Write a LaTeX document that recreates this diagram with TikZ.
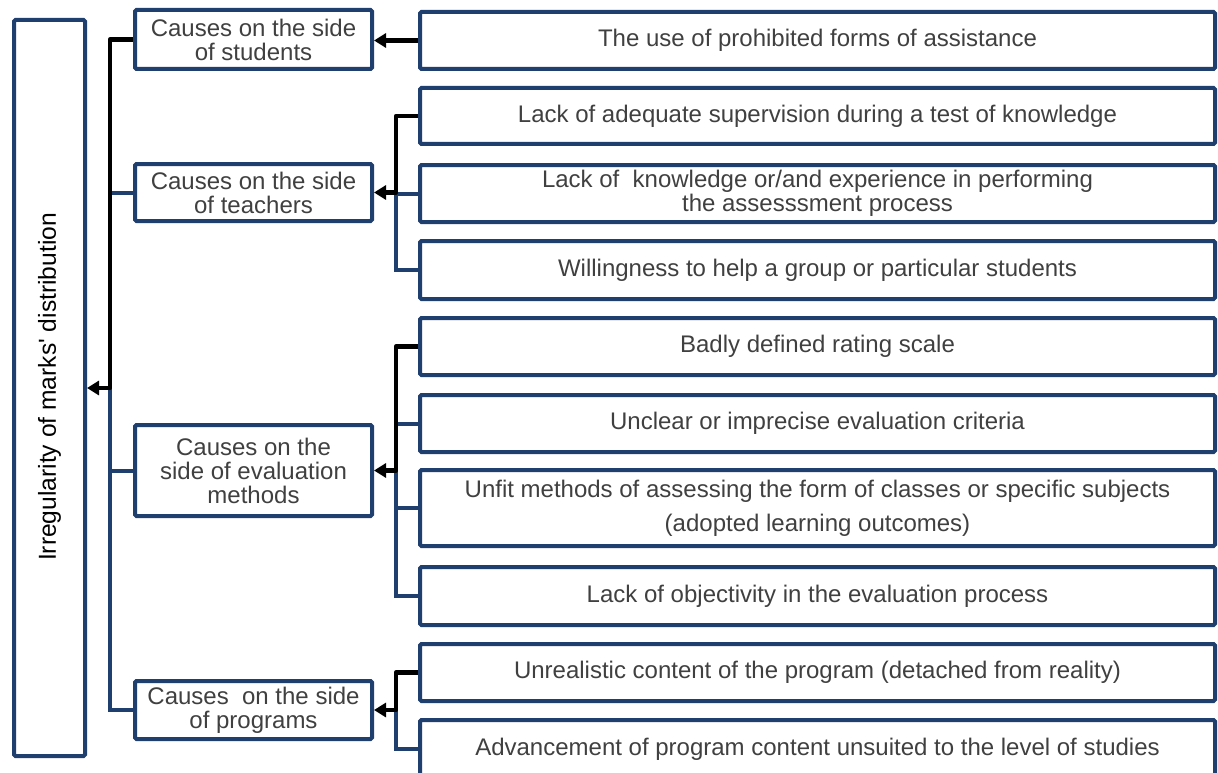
\documentclass[tikz,border=0pt]{standalone}
\usepackage{fontspec}
\setmainfont{Liberation Sans}
\usetikzlibrary{arrows.meta}
\definecolor{bordblue}{RGB}{31,63,110}
\definecolor{txtgray}{RGB}{64,64,64}
\begin{document}
\begin{tikzpicture}[x=1pt,y=-1pt,
  box/.style={draw=bordblue, line width=4pt, fill=white, rounded corners=1.5pt, text=txtgray,
    font=\fontsize{24}{24}\selectfont, align=center, inner sep=0pt},
  cbox/.style={box, minimum width=237pt, minimum height=58pt},
  rbox/.style={box, minimum width=795pt, minimum height=57pt},
  blk/.style={draw=black, line width=4.5pt, line join=round, -{Triangle[length=12pt,width=14pt]}},
  bl/.style={draw=bordblue, line width=4pt, line join=miter}]
\useasboundingbox (0,0) rectangle (1218,773);
\clip (0,0) rectangle (1218,773);
% main box
\node[box, minimum width=71pt, minimum height=736pt] (main) at (49.5,388) {};
\node[rotate=90, font=\fontsize{24.6}{26}\selectfont, text=black] (maintext) at ([yshift=1pt]main.center) {Irregularity of marks\textquotesingle\ distribution};
% cause boxes
\node[cbox, minimum height=59pt] (c1) at (253.5,39.5) {Causes on the side\\of students};
\node[cbox, minimum height=57pt] (c2) at (253.5,192.5) {Causes on the side\\of teachers};
\node[cbox, minimum height=91pt] (c3) at (253.5,470.5) {Causes on the\\side of evaluation\\methods};
\node[cbox, minimum height=58pt] (c4) at (253.5,710) {Causes\ \ on the side\\of programs};
% right boxes
\node[rbox] (r1) at (817.5,40.5) {The use of prohibited forms of assistance};
\node[rbox, minimum height=56pt] (r2) at (817.5,116) {Lack of adequate supervision during a test of knowledge};
\node[rbox] (r3) at (817.5,193.5) {Lack of\ \ knowledge or/and experience in performing\\the assesssment process};
\node[rbox, minimum height=58pt] (r4) at (817.5,270) {Willingness to help a group or particular students};
\node[rbox] (r5) at (817.5,346.5) {Badly defined rating scale};
\node[rbox] (r6) at (817.5,423.5) {Unclear or imprecise evaluation criteria};
\node[rbox, minimum height=76pt, font=\fontsize{24}{34}\selectfont] (r7) at (817.5,508) {Unfit methods of assessing the form of classes or specific subjects\\(adopted learning outcomes)};
\node[rbox, minimum height=58pt] (r8) at (817.5,596) {Lack of objectivity in the evaluation process};
\node[rbox] (r9) at (817.5,672.5) {Unrealistic content of the program (detached from reality)};
\node[rbox, minimum height=58pt] (r10) at (817.5,749) {Advancement of program content unsuited to the level of studies};
% bus coordinates
\coordinate (L) at (110,388);
\coordinate (T) at (396,192.5);
\coordinate (E) at (396,470.5);
\coordinate (P) at (396,710);
% left group
\draw[bl] (c2.west) -- (c2.west -| L);
\draw[bl] (c3.west) -- (c3.west -| L);
\draw[bl] (c4.west) -| (L);
\draw[blk] (c1.west) -| (L) -- (main.east);
% students
\draw[blk] (r1.west) -- (r1.west -| c1.east);
% teachers
\draw[bl] (r3.west) -- (r3.west -| T);
\draw[bl] (r4.west) -| (T);
\draw[blk] (r2.west) -| (T) -- (c2.east);
% evaluation
\draw[bl] (r6.west) -- (r6.west -| E);
\draw[bl] (r7.west) -- (r7.west -| E);
\draw[bl] (r8.west) -| (E);
\draw[blk] (r5.west) -| (E) -- (c3.east);
% programs
\draw[bl] (r10.west) -| (P);
\draw[blk] (r9.west) -| (P) -- (c4.east);
\end{tikzpicture}
\end{document}
